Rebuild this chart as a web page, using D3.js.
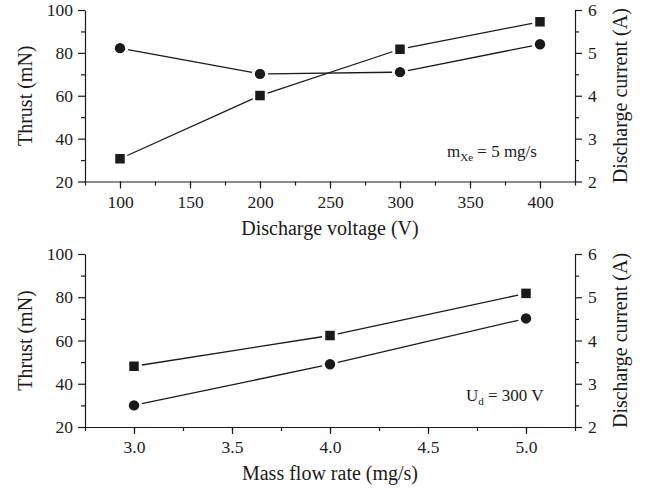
<!DOCTYPE html>
<html><head><meta charset="utf-8">
<script src="https://cdn.jsdelivr.net/npm/d3@7"></script>
<style>body{margin:0;background:#fff}svg{display:block}text{font-family:"Liberation Serif","Times New Roman",serif;fill:#1a1a1a}</style>
</head><body>
<svg id="c" width="647" height="496"></svg>
<script>
// Top panel: discharge voltage sweep (mXe = 5 mg/s)
const voltage = [100, 200, 300, 400];
const thrustV = [30.6, 60.1, 81.7, 94.5];
const currentV = [5.11, 4.51, 4.55, 5.2];
// Bottom panel: mass flow rate sweep (Ud = 300 V)
const massFlow = [3.0, 4.0, 5.0];
const thrustM = [48.1, 62.3, 81.8];
const currentM = [2.5, 3.45, 4.51];
const voltTicks = [100, 150, 200, 250, 300, 350, 400];
const flowTicks = [3.0, 3.5, 4.0, 4.5, 5.0];
const thrustTicks = [20, 40, 60, 80, 100];
const currentTicks = [2, 3, 4, 5, 6];

const svg = d3.select("#c");
const ink = "#1a1a1a";

function panel(cfg) {
  const g = svg.append("g");
  const x = d3.scaleLinear().domain(cfg.xdom).range([85, 575]);
  const yL = d3.scaleLinear().domain([20, 100]).range([cfg.bottom, cfg.top]);
  const yR = d3.scaleLinear().domain([2, 6]).range([cfg.bottom, cfg.top]);

  function styleAxis(sel) {
    sel.selectAll("path,line").attr("stroke", ink).attr("stroke-width", 1.2);
    sel.selectAll("text").attr("font-size", 17.5).attr("fill", ink);
  }
  // minor ticks
  g.append("g").attr("transform", `translate(0,${cfg.bottom})`)
    .call(d3.axisBottom(x).tickValues(d3.range(cfg.xdom[0], cfg.xdom[1] + 1e-9, cfg.xminor)).tickSize(4).tickFormat(""))
    .call(styleAxis).select(".domain").remove();
  g.append("g").attr("transform", `translate(85,0)`)
    .call(d3.axisLeft(yL).tickValues(d3.range(30, 100, 20)).tickSize(4).tickFormat(""))
    .call(styleAxis).select(".domain").remove();
  g.append("g").attr("transform", `translate(575,0)`)
    .call(d3.axisRight(yR).tickValues(d3.range(2.5, 6, 1)).tickSize(4).tickFormat(""))
    .call(styleAxis).select(".domain").remove();
  // major axes
  g.append("g").attr("transform", `translate(0,${cfg.bottom})`)
    .call(d3.axisBottom(x).tickValues(cfg.xticks).tickSize(7).tickSizeOuter(0).tickPadding(7).tickFormat(cfg.xfmt))
    .call(styleAxis);
  g.append("g").attr("transform", `translate(85,0)`)
    .call(d3.axisLeft(yL).tickValues(thrustTicks).tickSize(7).tickSizeOuter(0).tickPadding(5).tickFormat(d3.format("d")))
    .call(styleAxis);
  g.append("g").attr("transform", `translate(575,0)`)
    .call(d3.axisRight(yR).tickValues(currentTicks).tickSize(7).tickSizeOuter(0).tickPadding(6).tickFormat(d3.format("d")))
    .call(styleAxis);

  // titles
  g.append("text").attr("x", 330).attr("y", cfg.bottom + 53).attr("text-anchor", "middle")
    .attr("font-size", 20).text(cfg.xtitle);
  g.append("text").attr("transform", `translate(32,${(cfg.top + cfg.bottom) / 2}) rotate(-90)`)
    .attr("text-anchor", "middle").attr("font-size", 20).text("Thrust (mN)");
  g.append("text").attr("transform", `translate(627,${(cfg.top + cfg.bottom) / 2}) rotate(-90)`)
    .attr("text-anchor", "middle").attr("font-size", 20).text("Discharge current (A)");

  // series
  function series(xs, ys, yscale, shape) {
    const pts = xs.map((v, i) => [x(v), yscale(ys[i])]);
    const gap = 8;
    for (let i = 0; i < pts.length - 1; i++) {
      const [x1, y1] = pts[i], [x2, y2] = pts[i + 1];
      const d = Math.hypot(x2 - x1, y2 - y1), ux = (x2 - x1) / d, uy = (y2 - y1) / d;
      g.append("line").attr("x1", x1 + ux * gap).attr("y1", y1 + uy * gap)
        .attr("x2", x2 - ux * gap).attr("y2", y2 - uy * gap)
        .attr("stroke", ink).attr("stroke-width", 1.3);
    }
    pts.forEach(p => {
      if (shape === "square") {
        g.append("rect").attr("x", p[0] - 4.75).attr("y", p[1] - 4.75).attr("width", 9.5).attr("height", 9.5).attr("fill", ink);
      } else {
        g.append("circle").attr("cx", p[0]).attr("cy", p[1]).attr("r", 5.2).attr("fill", ink);
      }
    });
  }
  series(cfg.xs, cfg.thrust, yL, "square");
  series(cfg.xs, cfg.current, yR, "circle");

  // annotation
  const t = g.append("text").attr("x", cfg.ax).attr("y", cfg.ay).attr("font-size", 17);
  t.append("tspan").text(cfg.amain);
  t.append("tspan").attr("font-size", 11).attr("dy", 4).text(cfg.asub);
  t.append("tspan").attr("dy", -4).text(cfg.arest);
}

panel({ top: 10, bottom: 181.5, xdom: [75, 425], xminor: 25, xticks: voltTicks, xfmt: d3.format("d"),
  xtitle: "Discharge voltage (V)", xs: voltage, thrust: thrustV, current: currentV,
  ax: 447, ay: 157, amain: "m", asub: "Xe", arest: " = 5 mg/s" });
panel({ top: 254, bottom: 427, xdom: [2.75, 5.25], xminor: 0.25, xticks: flowTicks, xfmt: d3.format(".1f"),
  xtitle: "Mass flow rate (mg/s)", xs: massFlow, thrust: thrustM, current: currentM,
  ax: 466, ay: 401, amain: "U", asub: "d", arest: " = 300 V" });
</script>
</body></html>
